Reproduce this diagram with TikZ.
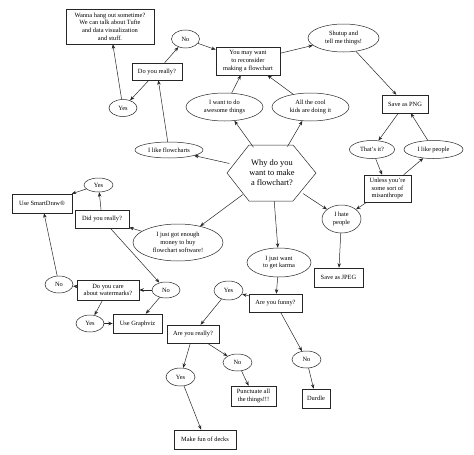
\documentclass[tikz,border=0pt]{standalone}
\usepackage{fontspec}
\setmainfont{Liberation Serif}
\usetikzlibrary{shapes.geometric,arrows.meta}
\tikzset{
  base/.style={draw=black!85, line width=0.5pt, align=center, font=\fontsize{6.4}{7.7}\selectfont},
  bx/.style={base, rectangle, inner sep=1pt},
  el/.style={base, ellipse, inner sep=0pt},
  ar/.style={draw=black!85, line width=0.5pt, -{Stealth[length=4.5pt,width=3.5pt]}},
}
\begin{document}
\begin{tikzpicture}[x=1pt,y=-1pt]
\useasboundingbox (0,0) rectangle (474,455);
% nodes
\node[bx, minimum width=88pt, minimum height=35pt] (wanna) at (110,26.5) {Wanna hang out sometime?\\We can talk about Tufte\\and data visualization\\and stuff.};
\node[el, minimum width=28pt, minimum height=18pt] (no1) at (185.5,39) {No};
\node[bx, minimum width=50pt, minimum height=17pt] (dyr1) at (157,71.5) {Do you really?};
\node[el, minimum width=28pt, minimum height=17pt] (yes1) at (123,108) {Yes};
\node[bx, minimum width=64pt, minimum height=28pt] (youmay) at (248,61) {You may want\\to reconsider\\making a flowchart};
\node[el, minimum width=71pt, minimum height=28pt] (shutup) at (343.5,38) {Shutup and\\tell me things!};
\node[bx, minimum width=46pt, minimum height=18pt] (png) at (405,104) {Save as PNG};
\node[el, minimum width=77pt, minimum height=28pt] (iwant) at (224.5,107) {I want to do\\awesome things};
\node[el, minimum width=77pt, minimum height=28pt] (cool) at (310.5,107) {All the cool\\kids are doing it};
\node[el, minimum width=45pt, minimum height=18pt] (thatsit) at (372,149.5) {That's it?};
\node[el, minimum width=59pt, minimum height=18pt] (ilikep) at (433.5,149.5) {I like people};
\node[bx, minimum width=47pt, minimum height=27pt] (unless) at (387.5,188.5) {Unless you're\\some sort of\\misanthrope};
\node[el, minimum width=39pt, minimum height=28pt] (ihate) at (341.5,219) {I hate\\people};
\node[bx, minimum width=49pt, minimum height=19pt] (jpeg) at (338.5,277.5) {Save as JPEG};
\node[ellipse, minimum width=90pt, minimum height=56pt, inner sep=0pt, align=center, font=\fontsize{8.4}{10}\selectfont] (hex) at (272,173) {Why do you\\want to make\\a flowchart?};
\draw[draw=black!85, line width=0.5pt] (hex.center) ++(-45,0) -- ++(22,-28) -- ++(44,0) -- ++(23,28) -- ++(-23,28) -- ++(-44,0) -- cycle;
\node[el, minimum width=68pt, minimum height=16pt] (ilikef) at (169,150) {I like flowcharts};
\node[el, minimum width=90pt, minimum height=37pt] (ijustgot) at (178,242.5) {I just got enough\\money to buy\\flowchart software!};
\node[bx, minimum width=60pt, minimum height=19pt] (smart) at (42,203.5) {Use SmartDraw®};
\node[el, minimum width=29pt, minimum height=14pt] (yes2) at (98.5,185) {Yes};
\node[bx, minimum width=54pt, minimum height=18pt] (dyr2) at (102,219) {Did you really?};
\node[el, minimum width=28pt, minimum height=17pt] (no2) at (59,284.5) {No};
\node[bx, minimum width=62pt, minimum height=20pt] (care) at (108,290) {Do you care\\about watermarks?};
\node[el, minimum width=28pt, minimum height=16pt] (no3) at (166,290) {No};
\node[el, minimum width=28pt, minimum height=17pt] (yes3) at (90,323.5) {Yes};
\node[bx, minimum width=49pt, minimum height=19pt] (gv) at (137.5,323.5) {Use Graphviz};
\node[el, minimum width=29pt, minimum height=19pt] (yes4) at (228.5,290.5) {Yes};
\node[bx, minimum width=52pt, minimum height=18pt] (ayr) at (193,334) {Are you really?};
\node[el, minimum width=64pt, minimum height=29pt] (karma) at (279,262.5) {I just want\\to get karma};
\node[bx, minimum width=53pt, minimum height=18pt] (funny) at (275.5,303) {Are you funny?};
\node[el, minimum width=29pt, minimum height=17pt] (no5) at (237.5,362.5) {No};
\node[el, minimum width=29pt, minimum height=18pt] (yes5) at (180.5,377) {Yes};
\node[bx, minimum width=45pt, minimum height=20pt] (punct) at (253.5,396) {Punctuate all\\the things!!!};
\node[el, minimum width=29pt, minimum height=17pt] (no4) at (306.5,359.5) {No};
\node[bx, minimum width=28pt, minimum height=19pt] (durdle) at (316,398.5) {Durdle};
\node[bx, minimum width=62pt, minimum height=19pt] (makefun) at (205,439.5) {Make fun of decks};
% edges
\draw[ar] (hex) -- (ilikef);
\draw[ar] (hex) -- (iwant);
\draw[ar] (hex) -- (cool);
\draw[ar] (hex) -- (ihate);
\draw[ar] (hex) -- (karma);
\draw[ar] (hex) -- (ijustgot);
\draw[ar] (ilikef) -- (dyr1);
\draw[ar] (dyr1) -- (no1);
\draw[ar] (dyr1) -- (yes1);
\draw[ar] (yes1) -- (wanna);
\draw[ar] (no1) -- (youmay);
\draw[ar] (iwant) -- (youmay);
\draw[ar] (cool) -- (youmay);
\draw[ar] (youmay) -- (shutup);
\draw[ar] (shutup) -- (png);
\draw[ar] (png) -- (thatsit);
\draw[ar] (thatsit) -- (unless);
\draw[ar] (unless) -- (ilikep);
\draw[ar] (ilikep) -- (png);
\draw[ar] (unless) -- (ihate);
\draw[ar] (ihate) -- (jpeg);
\draw[ar] (ijustgot) -- (dyr2);
\draw[ar] (dyr2) -- (yes2);
\draw[ar] (yes2) -- (smart);
\draw[ar] (dyr2) -- (no3);
\draw[ar] (no3) -- (care);
\draw[ar] (no3) -- (gv);
\draw[ar] (care) -- (no2);
\draw[ar] (care) -- (yes3);
\draw[ar] (no2) -- (smart);
\draw[ar] (yes3) -- (gv);
\draw[ar] (karma) -- (funny);
\draw[ar] (funny) -- (yes4);
\draw[ar] (funny) -- (no4);
\draw[ar] (yes4) -- (ayr);
\draw[ar] (ayr) -- (yes5);
\draw[ar] (ayr) -- (no5);
\draw[ar] (yes5) -- (makefun);
\draw[ar] (no5) -- (punct);
\draw[ar] (no4) -- (durdle);
\end{tikzpicture}
\end{document}
